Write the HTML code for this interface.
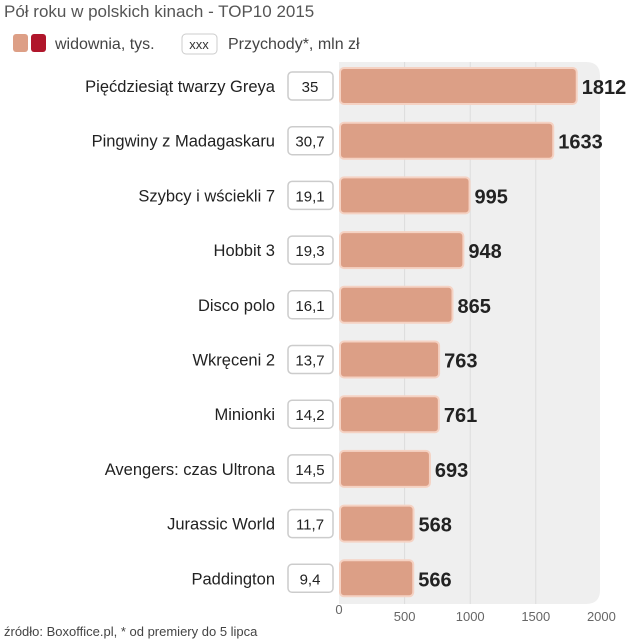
<!DOCTYPE html>
<html><head><meta charset="utf-8"><style>
body{margin:0;background:#fff;width:629px;height:640px;overflow:hidden;font-family:"Liberation Sans",sans-serif}
svg{display:block}
</style></head><body>
<svg width="629" height="640">
<text x="4" y="17" font-size="17" fill="#555">Pół roku w polskich kinach - TOP10 2015</text>
<g>
<rect x="13" y="34" width="15" height="18" rx="3" fill="#dd9f86"/>
<rect x="31" y="34" width="15" height="18" rx="3" fill="#b0162b"/>
<text x="55" y="49" font-size="16" fill="#444">widownia, tys.</text>
<rect x="182" y="34" width="35" height="20" rx="4" fill="#fff" stroke="#ccc"/>
<text x="199" y="49" font-size="13" fill="#333" text-anchor="middle">xxx</text>
<text x="228" y="49" font-size="16" fill="#444">Przychody*, mln zł</text>
</g>
<path d="M339 62 H586 Q600 62 600 76 V590 Q600 604 586 604 H339 Z" fill="#efefef"/>
<g id="grid"></g><g id="bars"></g><g id="ticks"></g>
<text x="4" y="636" font-size="13" fill="#444">źródło: Boxoffice.pl, * od premiery do 5 lipca</text>
</svg>
<script>
const titles=["Pięćdziesiąt twarzy Greya","Pingwiny z Madagaskaru","Szybcy i wściekli 7","Hobbit 3","Disco polo","Wkręceni 2","Minionki","Avengers: czas Ultrona","Jurassic World","Paddington"];
const audience=[1812,1633,995,948,865,763,761,693,568,566];
const revenue=["35","30,7","19,1","19,3","16,1","13,7","14,2","14,5","11,7","9,4"];
const ticks=[0,500,1000,1500,2000];
const NS="http://www.w3.org/2000/svg";
const x0=339,kx=0.1312,y0=86,step=54.7;
const xs=v=>x0+v*kx, ys=i=>y0+i*step;
function mk(t,a,p){const e=document.createElementNS(NS,t);for(const k in a)e.setAttribute(k,a[k]);p.appendChild(e);return e;}
const G=document.getElementById('grid'),B=document.getElementById('bars'),T=document.getElementById('ticks');
ticks.forEach(t=>{
 if(t>0&&t<2000){const l=mk('line',{x1:xs(t),x2:xs(t),y1:62,y2:604,stroke:'#dcdcdc'},G);
 
 }
 const tx=mk('text',{x:xs(t),y:t===0?614:621,'font-size':13,fill:'#666','text-anchor':'middle'},T);tx.textContent=t;
 
 
});
titles.forEach((n,i)=>{
 const y=ys(i);
 const lb=mk('text',{x:275,y:y+6,'font-size':16.5,fill:'#222','text-anchor':'end'},B);lb.textContent=n;
 
 
 const bx=mk('rect',{x:288,y:y-14,width:45,height:28,rx:4,fill:'#fff',stroke:'#ccc','stroke-width':1.5},B);
 
 
 const rv=mk('text',{x:310,y:y+6,'font-size':15,fill:'#222','text-anchor':'middle'},B);rv.textContent=revenue[i];
 
 
 const br=mk('rect',{x:x0+1,y:y-18,width:xs(audience[i])-x0-1,height:36,rx:4,fill:'#dc9f86',stroke:'#f5d2c3','stroke-width':2},B);
 
 
 const av=mk('text',{x:xs(audience[i])+5,y:y+8,'font-size':20,'font-weight':'bold',fill:'#222'},B);av.textContent=audience[i];
 
 
});
</script>
</body></html>
